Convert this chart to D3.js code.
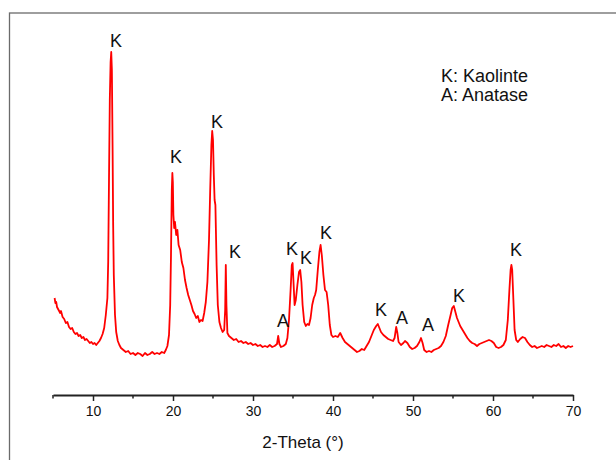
<!DOCTYPE html>
<html lang="en">
<head>
<meta charset="utf-8"/>
<title>XRD pattern</title>
<script src="https://cdn.jsdelivr.net/npm/d3@7/dist/d3.min.js"></script>
<style>
  body { margin: 0; background: #fff; }
  svg { display: block; font-family: "Liberation Sans", Arial, sans-serif; }
</style>
</head>
<body>
<svg id="chart" width="616" height="460"></svg>
<script>
// 2-theta (deg) and intensity (counts)
const twoTheta = [
  5.2, 5.3, 5.4, 5.5, 5.7, 5.9, 6.0, 6.2, 6.4, 6.6, 6.8, 7.0, 7.2, 7.4, 7.6, 7.8, 8.0, 8.2, 8.4, 8.6,
  8.8, 9.0, 9.2, 9.4, 9.6, 9.8, 10.0, 10.2, 10.4, 10.6, 10.8, 11.0, 11.2, 11.4, 11.6, 11.8, 11.9, 12.0, 12.1, 12.2,
  12.28, 12.36, 12.45, 12.52, 12.6, 12.75, 12.9, 13.1, 13.3, 13.5, 13.8, 14.1, 14.4, 14.7, 15.0, 15.3, 15.6, 15.9, 16.2, 16.5,
  16.8, 17.1, 17.4, 17.7, 18.0, 18.3, 18.6, 18.9, 19.1, 19.3, 19.5, 19.65, 19.75, 19.85, 19.92, 19.98, 20.05, 20.15, 20.25, 20.4,
  20.55, 20.7, 20.9, 21.1, 21.3, 21.5, 21.7, 21.9, 22.1, 22.3, 22.5, 22.7, 22.9, 23.1, 23.3, 23.5, 23.7, 23.9, 24.1, 24.3,
  24.5, 24.65, 24.8, 24.9, 25.0, 25.1, 25.2, 25.3, 25.45, 25.6, 25.8, 26.0, 26.2, 26.4, 26.52, 26.6, 26.68, 26.8, 27.0, 27.3,
  27.6, 27.9, 28.2, 28.5, 28.8, 29.1, 29.4, 29.7, 30.0, 30.3, 30.6, 30.9, 31.2, 31.5, 31.8, 32.1, 32.4, 32.7, 33.0, 33.15,
  33.3, 33.5, 33.8, 34.1, 34.3, 34.5, 34.7, 34.85, 34.95, 35.05, 35.2, 35.35, 35.55, 35.75, 35.9, 36.05, 36.2, 36.4, 36.6, 36.8,
  37.0, 37.2, 37.4, 37.6, 37.75, 37.9, 38.1, 38.3, 38.45, 38.6, 38.8, 39.0, 39.2, 39.4, 39.6, 39.8, 40.0, 40.3, 40.6, 40.9,
  41.2, 41.5, 41.8, 42.1, 42.4, 42.7, 43.0, 43.3, 43.6, 43.9, 44.2, 44.5, 44.8, 45.1, 45.4, 45.6, 45.8, 46.0, 46.3, 46.6,
  46.9, 47.2, 47.5, 47.7, 47.9, 48.05, 48.2, 48.5, 48.8, 49.0, 49.3, 49.6, 49.9, 50.2, 50.5, 50.8, 51.0, 51.2, 51.4, 51.7,
  52.0, 52.3, 52.6, 52.9, 53.2, 53.5, 53.8, 54.1, 54.4, 54.7, 54.9, 55.1, 55.3, 55.5, 55.7, 55.9, 56.2, 56.5, 56.8, 57.1,
  57.4, 57.7, 58.0, 58.3, 58.6, 58.9, 59.2, 59.5, 59.8, 60.1, 60.4, 60.7, 61.0, 61.3, 61.6, 61.85, 62.05, 62.2, 62.3, 62.4,
  62.55, 62.7, 62.9, 63.1, 63.4, 63.7, 64.0, 64.3, 64.6, 64.9, 65.2, 65.5, 65.8, 66.1, 66.4, 66.7, 67.0, 67.3, 67.6, 67.9,
  68.2, 68.5, 68.8, 69.1, 69.4, 69.7, 70.0
]
const counts = [
  970, 920, 930, 880, 850, 820, 840, 780, 760, 720, 730, 680, 660, 670, 630, 610, 620, 590, 600, 570,
  580, 550, 560, 540, 520, 530, 510, 520, 500, 520, 540, 570, 610, 670, 800, 970, 1330, 2150, 2950, 3330,
  3430, 3250, 2450, 1700, 1200, 800, 630, 540, 500, 470, 450, 430, 440, 410, 420, 400, 420, 410, 390, 420,
  400, 410, 430, 410, 420, 410, 430, 420, 450, 490, 600, 900, 1400, 2050, 2220, 2130, 1800, 1670, 1730, 1600,
  1650, 1500, 1450, 1330, 1270, 1150, 1070, 1000, 950, 900, 840, 810, 770, 790, 730, 750, 740, 820, 930, 1130,
  1550, 2050, 2500, 2640, 2550, 2200, 1950, 1900, 1300, 900, 730, 670, 630, 650, 850, 1300, 900, 620, 590, 570,
  550, 560, 530, 540, 520, 530, 510, 520, 500, 510, 490, 500, 480, 490, 480, 500, 480, 490, 510, 590,
  510, 480, 490, 510, 570, 750, 1050, 1300, 1320, 1150, 900, 950, 1100, 1230, 1250, 1130, 900, 730, 690, 710,
  700, 770, 900, 970, 1000, 1050, 1250, 1430, 1500, 1400, 1200, 1050, 1030, 900, 700, 600, 580, 590, 580, 620,
  570, 530, 510, 490, 470, 450, 430, 440, 460, 450, 490, 530, 590, 650, 690, 710, 670, 630, 600, 580,
  560, 550, 540, 570, 680, 620, 530, 500, 520, 540, 520, 480, 460, 470, 490, 530, 570, 520, 450, 430,
  440, 430, 450, 460, 470, 490, 530, 590, 700, 800, 870, 890, 830, 770, 730, 690, 650, 610, 570, 540,
  520, 510, 490, 510, 520, 530, 540, 550, 540, 520, 480, 470, 480, 500, 550, 750, 1050, 1250, 1300, 1250,
  950, 650, 550, 530, 560, 580, 570, 530, 500, 480, 490, 470, 480, 490, 480, 500, 490, 480, 500, 490,
  510, 480, 490, 470, 490, 480, 490
]

// phase labels: text, position (2-theta), height (counts)
const peakText = ["K", "K", "K", "K", "A", "K", "K", "K", "K", "A", "A", "K", "K"]
const peakTheta = [12.875, 20.375, 25.5, 27.75, 33.75, 34.875, 36.625, 39.125, 46.0, 48.625, 51.875, 55.75, 62.875]
const peakCounts = [3480, 2320, 2670, 1370, 680, 1400, 1310, 1560, 790, 710, 640, 930, 1390]

const legendLines = ["K: Kaolinte", "A: Anatase"]
const majorTicks = [10, 20, 30, 40, 50, 60, 70]
const minorTicks = [5, 15, 25, 35, 45, 55, 65]

const svg = d3.select('#chart')

const x = d3.scaleLinear().domain([5, 70]).range([53, 573])
const y = d3.scaleLinear().domain([0, 3950]).range([395, 0])

// frame
svg.append('rect')
  .attr('x', 9.5).attr('y', 13)
  .attr('width', 700).attr('height', 600)
  .attr('fill', 'none')
  .attr('stroke', '#6b6b6b')
  .attr('stroke-width', 1.3)

// pattern
const pts = twoTheta.map((t, i) => [t, counts[i]])
svg.append('path')
  .datum(pts)
  .attr('d', d3.line().x(d => x(d[0])).y(d => y(d[1])))
  .attr('fill', 'none')
  .attr('stroke', '#ff0000')
  .attr('stroke-width', 1.8)
  .attr('stroke-linejoin', 'round')

// x axis, major ticks with labels
const axisG = svg.append('g').attr('transform', 'translate(0,395)')
axisG.call(d3.axisBottom(x).tickValues(majorTicks).tickSize(6).tickSizeOuter(0).tickPadding(5))
axisG.select('.domain').attr('stroke', '#222').attr('stroke-width', 2)
axisG.selectAll('.tick line').attr('stroke', '#222').attr('stroke-width', 1.5)
axisG.selectAll('.tick text')
  .attr('font-family', '"Liberation Sans", Arial, sans-serif')
  .attr('font-size', 14).attr('fill', '#111')

// minor ticks
axisG.selectAll('.minor')
  .data(minorTicks)
  .enter().append('line')
  .attr('x1', d => x(d)).attr('x2', d => x(d))
  .attr('y1', 0).attr('y2', 3.5)
  .attr('stroke', '#222').attr('stroke-width', 1.5)

svg.append('text')
  .attr('x', 303).attr('y', 448)
  .attr('text-anchor', 'middle')
  .attr('font-size', 17).attr('fill', '#111')
  .text('2-Theta (°)')

// peak labels
svg.append('g').selectAll('text')
  .data(peakText)
  .enter().append('text')
  .attr('x', (d, i) => x(peakTheta[i]))
  .attr('y', (d, i) => y(peakCounts[i]))
  .attr('text-anchor', 'middle')
  .attr('font-size', 18).attr('fill', '#111')
  .text(d => d)

// legend
svg.append('g').selectAll('text')
  .data(legendLines)
  .enter().append('text')
  .attr('x', 441)
  .attr('y', (d, i) => 82 + i * 18.5)
  .attr('font-size', 18).attr('fill', '#111')
  .text(d => d)
</script>
</body>
</html>
